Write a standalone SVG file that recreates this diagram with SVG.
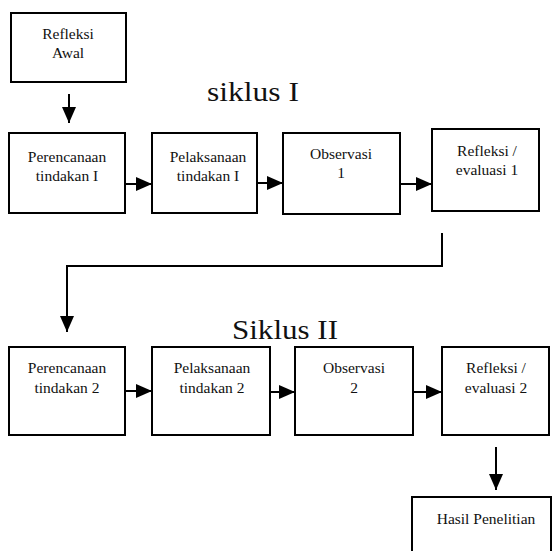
<svg xmlns="http://www.w3.org/2000/svg" width="553" height="551" viewBox="0 0 553 551">
<style>
.box{fill:#fff;stroke:#000;stroke-width:2}
.t{font-family:'Liberation Serif','DejaVu Serif','Times New Roman',serif;font-size:15.5px;fill:#111;text-anchor:middle}
.big{font-family:'Liberation Serif','DejaVu Serif','Times New Roman',serif;font-size:27px;fill:#111;text-anchor:middle}
.c{fill:none;stroke:#000;stroke-width:2}
</style>
<defs>
<marker id="ah" markerUnits="userSpaceOnUse" markerWidth="16" markerHeight="14" refX="16" refY="7" orient="auto">
<path d="M0,0 L16,7 L0,14 z" fill="#000"/>
</marker>
</defs>
<rect width="553" height="551" fill="#fff"/>
<text class="big" x="253" y="101" textLength="92" lengthAdjust="spacingAndGlyphs">siklus I</text>
<text class="big" x="285" y="339" textLength="106" lengthAdjust="spacingAndGlyphs">Siklus II</text>
<g id="n-awal"><rect class="box" x="11" y="13" width="115" height="69"/><text class="t" x="68" y="39">Refleksi</text><text class="t" x="68" y="58">Awal</text></g>
<g id="n-p1"><rect class="box" x="9" y="133" width="116" height="80"/><text class="t" x="67" y="162">Perencanaan</text><text class="t" x="67" y="181">tindakan I</text></g>
<g id="n-l1"><rect class="box" x="152" y="133" width="105" height="80"/><text class="t" x="208" y="162">Pelaksanaan</text><text class="t" x="208" y="181">tindakan I</text></g>
<g id="n-o1"><rect class="box" x="283" y="133" width="117" height="81"/><text class="t" x="341" y="159">Observasi</text><text class="t" x="341" y="178">1</text></g>
<g id="n-r1"><rect class="box" x="432" y="129" width="107" height="82"/><text class="t" x="487" y="156">Refleksi /</text><text class="t" x="487" y="175">evaluasi 1</text></g>
<g id="n-p2"><rect class="box" x="9" y="347" width="116" height="88"/><text class="t" x="67" y="373">Perencanaan</text><text class="t" x="67" y="393">tindakan 2</text></g>
<g id="n-l2"><rect class="box" x="152" y="347" width="118" height="88"/><text class="t" x="212" y="373">Pelaksanaan</text><text class="t" x="212" y="393">tindakan 2</text></g>
<g id="n-o2"><rect class="box" x="295" y="347" width="118" height="88"/><text class="t" x="354" y="373">Observasi</text><text class="t" x="354" y="393">2</text></g>
<g id="n-r2"><rect class="box" x="442" y="347" width="107" height="88"/><text class="t" x="496" y="373">Refleksi /</text><text class="t" x="496" y="393">evaluasi 2</text></g>
<g id="n-hasil"><rect class="box" x="412" y="497" width="139" height="80"/><text class="t" x="486" y="524">Hasil Penelitian</text></g>
<g id="connectors">
<line class="c" x1="69" y1="94" x2="69" y2="123" marker-end="url(#ah)"/>
<line class="c" x1="125" y1="184" x2="152" y2="184" marker-end="url(#ah)"/>
<line class="c" x1="257" y1="183" x2="283" y2="183" marker-end="url(#ah)"/>
<line class="c" x1="400" y1="184" x2="432" y2="184" marker-end="url(#ah)"/>
<polyline class="c" points="442,233 442,266 67,266 67,332" marker-end="url(#ah)"/>
<line class="c" x1="125" y1="391" x2="152" y2="391" marker-end="url(#ah)"/>
<line class="c" x1="270" y1="392" x2="295" y2="392" marker-end="url(#ah)"/>
<line class="c" x1="413" y1="392" x2="442" y2="392" marker-end="url(#ah)"/>
<line class="c" x1="496" y1="447" x2="496" y2="490" marker-end="url(#ah)"/>
</g>
</svg>
